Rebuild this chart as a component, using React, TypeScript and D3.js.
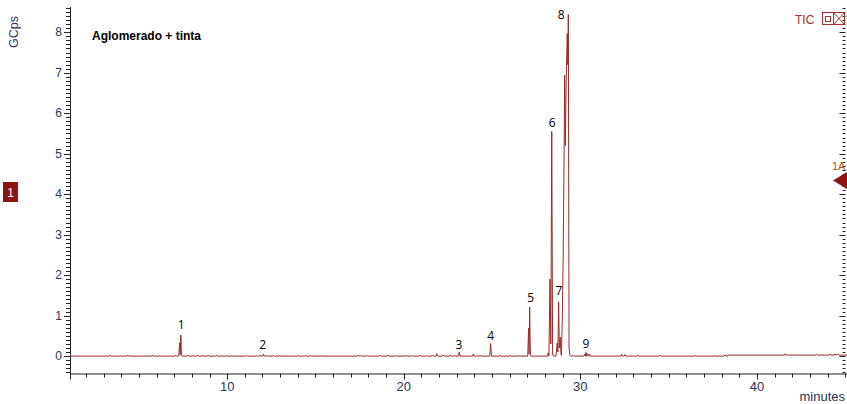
import React from 'react';
import * as d3 from 'd3';

const W = 847;
const H = 404;

// ---- data ----
const yTickValues = [0, 1, 2, 3, 4, 5, 6, 7, 8];
const xTickValues = [10, 20, 30, 40];

// Main peak profiles: [minutes, GCps]
const peak1: [number, number][] = [[7.26, 0], [7.31, 0.33], [7.34, 0.03], [7.38, 0.52], [7.41, 0.02], [7.45, 0]];
const peak5: [number, number][] = [[27.02, 0], [27.07, 0.69], [27.10, 0.05], [27.13, 1.21], [27.17, 0.02], [27.21, 0]];
const peak6: [number, number][] = [[28.14, 0], [28.18, 0.08], [28.22, 0], [28.28, 1.9], [28.33, 0.3], [28.38, 5.55], [28.43, 0.05], [28.47, 0]];
const peak7: [number, number][] = [[28.62, 0], [28.69, 0.32], [28.73, 0.1], [28.77, 1.34], [28.81, 0.2], [28.86, 0.47], [28.9, 0.05]];
const peak8: [number, number][] = [[28.93, 0.02], [28.98, 0.94], [29.03, 2.6], [29.08, 5.0], [29.11, 6.94], [29.15, 5.2], [29.2, 6.9], [29.26, 7.97], [29.29, 7.2], [29.32, 8.44], [29.36, 0.2], [29.41, 0.02], [29.46, 0]];

// Small baseline bumps: [minutes, GCps]
const bumps: [number, number][] = [
  [3.37, 0.02], [4.37, 0.025], [5.76, 0.025], [7.1, 0.02], [7.78, 0.02], [8.06, 0.015], [8.33, 0.03],
  [8.63, 0.015], [8.93, 0.02], [9.41, 0.02], [9.97, 0.015], [11.11, 0.015], [11.67, 0.02], [11.86, 0.02],
  [12.05, 0.05], [12.24, 0.02], [12.61, 0.015], [12.99, 0.015], [14.03, 0.015], [14.41, 0.015],
  [14.69, 0.015], [15.26, 0.015], [17.43, 0.025], [17.62, 0.015], [17.9, 0.02], [18.65, 0.02],
  [19.12, 0.03], [19.6, 0.015], [20.17, 0.02], [20.5, 0.015], [20.92, 0.02], [21.3, 0.015],
  [21.65, 0.02], [21.87, 0.06], [22.24, 0.03], [22.62, 0.02], [22.9, 0.015], [23.14, 0.1],
  [23.94, 0.05], [24.32, 0.02], [24.92, 0.31], [25.45, 0.015], [26.02, 0.015], [26.58, 0.015],
  [29.58, 0.02], [30.26, 0.05], [30.32, 0.09], [30.42, 0.06], [30.52, 0.04], [32.34, 0.05],
  [32.53, 0.04], [33.26, 0.02], [34.51, 0.02], [36.49, 0.015], [37.62, 0.015], [38.19, 0.03],
  [41.59, 0.03], [43.38, 0.02], [44.14, 0.025], [44.42, 0.03], [44.59, 0.025],
];

// Baseline level segments: [start minute, level]
const baselineLevels: [number, number][] = [[1.1, 0], [38.35, 0.025]];

const peakLabels = ['1', '2', '3', '4', '5', '6', '7', '8', '9'];
const peakLabelTimes = [7.39, 12.01, 23.13, 24.92, 27.19, 28.41, 28.79, 28.92, 30.32];
const peakLabelValues = [0.68, 0.17, 0.165, 0.41, 1.33, 5.67, 1.52, 8.33, 0.21];

const X0 = 1.1;
const X1 = 45.1;

function baseAt(t: number) {
  let lv = 0;
  for (const [s, l] of baselineLevels) if (t >= s) lv = l;
  return lv;
}

function buildTrace(): [number, number][] {
  const pts: [number, number][] = [];
  pts.push([X0, baseAt(X0)]);
  for (const [t, h] of bumps) {
    const b = baseAt(t);
    pts.push([t - 0.05, b], [t, b + h], [t + 0.05, b]);
  }
  for (const pk of [peak1, peak5, peak6, peak7, peak8]) for (const p of pk) pts.push(p);
  pts.push([38.34, 0], [38.36, 0.025]);
  pts.push([X1 + 1, baseAt(X1)]);
  pts.sort((a, b) => a[0] - b[0]);
  return pts;
}

export default function App() {
  const left = 70;
  const right = 847;
  const top = 7;
  const bottom = 373.5;

  const x = d3.scaleLinear().domain([X0, X1]).range([left, right]);
  const y = d3.scaleLinear().domain([-0.43, 8.6]).range([bottom, top + 1]);

  const trace = buildTrace();
  const line = d3
    .line<[number, number]>()
    .x((d) => x(d[0]))
    .y((d) => y(d[1]));

  const yMinor = d3.range(-4, 87).map((i) => i / 10).filter((v) => y(v) >= top + 1 && y(v) <= bottom + 0.5);
  const xMinor = d3.range(2, 46).filter((v) => x(v) <= right);

  const axisColor = '#222';
  const labelColor = '#2A3656';
  const traceColor = '#9C2A2A';

  return (
    <svg width={W} height={H} style={{ position: 'absolute', left: 0, top: 0, background: '#fff' }}>
      <defs>
        <clipPath id="plot">
          <rect x={left} y={0} width={right - left} height={bottom} />
        </clipPath>
      </defs>
      <rect x={0} y={0} width={W} height={H} fill="#fff" />

      {/* Y axis */}
      <line x1={left + 0.5} x2={left + 0.5} y1={top} y2={bottom + 6} stroke={axisColor} strokeWidth={1} />
      {yMinor.map((v) => {
        const major = Math.abs(v - Math.round(v)) < 1e-6;
        const yy = Math.round(y(v)) + 0.5;
        return <line key={'ym' + v} x1={left - (major ? 6 : 4)} x2={left} y1={yy} y2={yy} stroke={axisColor} strokeWidth={1} />;
      })}
      {yTickValues.map((v) => (
        <text key={'yl' + v} x={62} y={y(v) + 4} textAnchor="end" fontFamily="Liberation Sans, Arial, sans-serif" fontSize={12} fill={labelColor}>
          {v}
        </text>
      ))}
      <text transform="translate(18,32) rotate(-90)" textAnchor="middle" fontFamily="Liberation Sans, Arial, sans-serif" fontSize={12.5} fill={labelColor}>
        GCps
      </text>

      {/* Right axis ticks */}
      {yMinor.map((v) => {
        const major = Math.abs(v - Math.round(v)) < 1e-6;
        const yy = Math.round(y(v)) + 0.5;
        return <line key={'yr' + v} x1={845.5 - (major ? 6 : 3)} x2={845.5} y1={yy} y2={yy} stroke={axisColor} strokeWidth={1} />;
      })}

      {/* X axis */}
      <line x1={left} x2={right} y1={bottom + 0.5} y2={bottom + 0.5} stroke={axisColor} strokeWidth={1} />
      {xMinor.map((v) => {
        const major = v % 10 === 0;
        const xx = Math.round(x(v)) + 0.5;
        return <line key={'xm' + v} x1={xx} x2={xx} y1={bottom} y2={bottom + (major ? 6 : 4)} stroke={axisColor} strokeWidth={1} />;
      })}
      {xTickValues.map((v) => (
        <text key={'xl' + v} x={x(v)} y={391} textAnchor="middle" fontFamily="Liberation Sans, Arial, sans-serif" fontSize={13} fill={labelColor}>
          {v}
        </text>
      ))}
      <text x={845} y={401} textAnchor="end" fontFamily="Liberation Sans, Arial, sans-serif" fontSize={13} fill={labelColor}>
        minutes
      </text>

      {/* Trace */}
      <g clipPath="url(#plot)">
        <path d={line(trace) || ''} fill="none" stroke={traceColor} strokeWidth={1} strokeLinejoin="miter" />
      </g>

      {/* Annotations */}
      <text x={92} y={40} fontFamily="Liberation Sans, Arial, sans-serif" fontWeight="bold" fontSize={12} fill="#000">
        Aglomerado + tinta
      </text>
      {peakLabels.map((lab, i) => (
        <text key={'pl' + lab} x={x(peakLabelTimes[i])} y={y(peakLabelValues[i])} textAnchor="middle" fontFamily="Open Sans, Liberation Sans, sans-serif" fontSize={12} fill="#000">
          {lab}
        </text>
      ))}

      {/* TIC header */}
      <text x={795} y={24} fontFamily="Liberation Sans, Arial, sans-serif" fontSize={12} fill="#A8302F">
        TIC
      </text>
      <rect x={822.5} y={12.5} width={11} height={12} fill="none" stroke="#A8302F" strokeWidth={1} />
      <rect x={825.5} y={16.5} width={5} height={5} fill="none" stroke="#A8302F" strokeWidth={1} />
      <rect x={833.5} y={12.5} width={11} height={12} fill="none" stroke="#A8302F" strokeWidth={1} />
      <line x1={833.5} y1={12.5} x2={844.5} y2={24.5} stroke="#A8302F" strokeWidth={1} />
      <line x1={844.5} y1={12.5} x2={833.5} y2={24.5} stroke="#A8302F" strokeWidth={1} />

      {/* Markers */}
      <rect x={3} y={182} width={15} height={20} fill="#8E1414" />
      <text x={10.5} y={196.5} textAnchor="middle" fontFamily="Liberation Sans, Arial, sans-serif" fontSize={12} fill="#fff">
        1
      </text>
      <text x={832} y={170} fontFamily="Liberation Sans, Arial, sans-serif" fontSize={11} fill="#B4541C">
        1A
      </text>
      <polygon points="833,180.5 847,172 847,189" fill="#8E1414" />
    </svg>
  );
}
